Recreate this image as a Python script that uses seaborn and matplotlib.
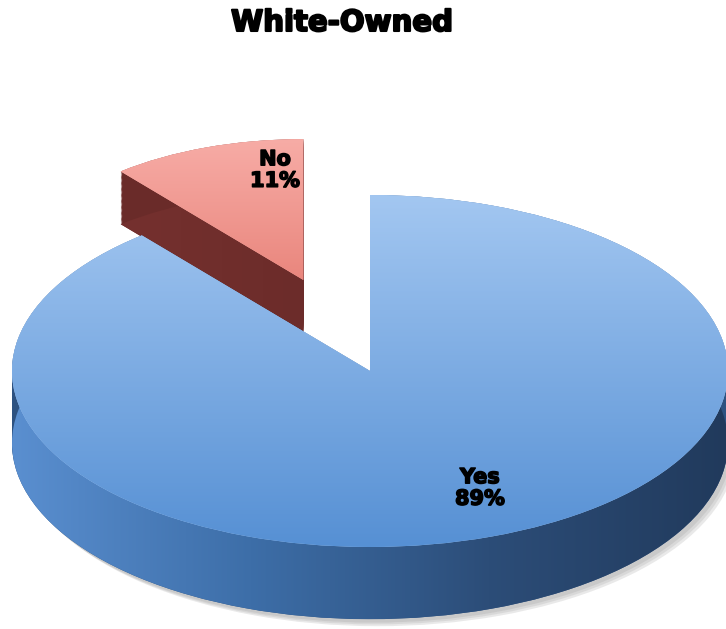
import numpy as np
import matplotlib
matplotlib.use("Agg")
import matplotlib.pyplot as plt
import matplotlib.patheffects as pe
import seaborn as sns
from matplotlib.colors import LinearSegmentedColormap

# ---- data ----
categories = ["Yes", "No"]
shares = [89, 11]
pct_labels = ["89%", "11%"]
title = "White-Owned"

sns.set_theme(style="white")
plt.rcParams['font.family'] = ['DejaVu Sans']

W, H = 726, 629
fig = plt.figure(figsize=(W / 100, H / 100), dpi=100)
ax = fig.add_axes([0, 0, 1, 1])

# pixel mapping of the unit pie (top ellipse)
cx, cy, rx, ry = 370, 371, 358, 176
def px(x, y):
    return (x - cx) / rx, (cy - y) / ry

explode = [0.0, 0.55]
radii = [1.0, 0.8]
depths = [0.41, 0.30]
top_cols = [("#a3c7f1", "#5690d4"), ("#f7aca6", "#dc6054")]
side_cols = ["#2d5281", "#6a2b29"]
side_grad = [["#5a8fd0", "#3d6ea8", "#2c4d78", "#213a5c"], ["#7a3331", "#5e2523"]]

z = [2]
def nz():
    z[0] += 1
    return z[0]

def pie_layer(i, color, center, radius=None):
    cols = ['none', 'none']
    cols[i] = color
    ws, _ = ax.pie(shares, explode=explode, radius=radius or radii[i], colors=cols,
                   startangle=90, counterclock=False, center=center,
                   wedgeprops=dict(linewidth=0))
    for w in ws:
        w.set_zorder(nz())
    return ws[i]

def grad_fill(patch, colors, extent, vertical=True):
    cmap = LinearSegmentedColormap.from_list('g', colors)
    arr = np.linspace(0, 1, 256)
    arr = arr.reshape(-1, 1) if vertical else arr.reshape(1, -1)
    im = ax.imshow(arr, cmap=cmap, extent=extent, aspect='auto', origin='upper',
                   interpolation='bicubic', zorder=nz())
    im.set_clip_path(patch)

# soft shadow of the Yes disc
for k, a in enumerate([0.10, 0.10, 0.12]):
    pie_layer(0, (0.3, 0.3, 0.3, a), (0.01 + 0.006 * k, -depths[0] - 0.02 - 0.01 * k))

total = sum(shares)
for i in [1, 0]:  # No (back) first, then Yes
    mid = np.deg2rad(90 - 360 * (sum(shares[:i]) + shares[i] / 2) / total)
    ox = explode[i] * np.cos(mid)
    oy = explode[i] * np.sin(mid)
    r = radii[i]
    bottom = None
    for d in np.linspace(depths[i], 0, 45):
        w = pie_layer(i, side_cols[i], (0, -d))
        if bottom is None:
            bottom = w
    grad_fill(bottom, side_grad[i], (ox - r, ox + r, oy - depths[i] - r, oy + r), vertical=False)
    top = pie_layer(i, top_cols[i][0], (0, 0))
    grad_fill(top, list(top_cols[i]), (ox - r, ox + r, oy - r, oy + r), vertical=True)

ax.set_aspect('auto')
ax.set_xlim(-cx / rx, (W - cx) / rx)
ax.set_ylim((cy - H) / ry, cy / ry)
ax.axis('off')

heavy = [pe.withStroke(linewidth=1.1, foreground='black')]
label_pos = [px(480, 488), px(275, 170)]
for i in range(2):
    ax.text(label_pos[i][0], label_pos[i][1], f"{categories[i]}\n{pct_labels[i]}",
            ha='center', va='center', fontsize=15, fontweight='heavy', color='black',
            linespacing=1.1, zorder=nz(), path_effects=heavy)

fig.text(342 / W, 1 - 23 / H, title, ha='center', va='center', fontsize=21,
         fontweight='heavy', color='black',
         path_effects=[pe.withStroke(linewidth=1.5, foreground='black')])

fig.savefig("out.png", dpi=100)
